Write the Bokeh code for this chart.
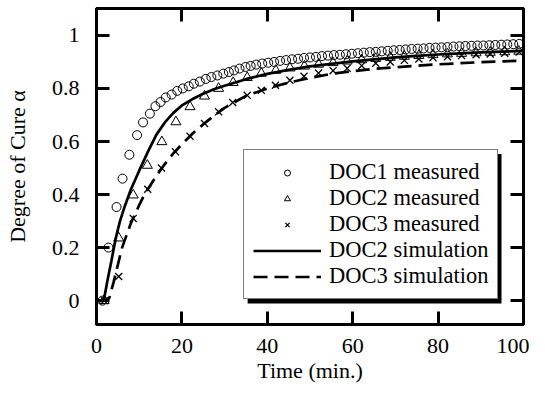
from bokeh.plotting import figure
from bokeh.models import (Range1d, LinearAxis, FixedTicker, Legend, LegendItem,
                          BoxAnnotation)
from bokeh.embed import file_html
from bokeh.resources import INLINE

# ---------------- data ----------------
doc1_t = [1.4, 2.8, 4.7, 6.1, 7.7, 9.5, 10.9, 12.5, 13.8, 15.0, 16.2, 17.6, 18.9, 20.2,
          21.6, 22.8, 24.2, 25.6, 26.9, 28.3, 29.7, 31.0, 32.2, 33.5, 34.9, 36.1, 37.4,
          38.8, 40.2, 41.6, 43.0, 44.4, 45.8, 47.2, 48.6, 50.0, 51.4, 52.8, 54.2, 55.6,
          57.0, 58.4, 59.8, 61.2, 62.6, 64.0, 65.4, 66.8, 68.2, 69.6, 71.0, 72.4, 73.8,
          75.2, 76.6, 78.0, 79.4, 80.8, 82.2, 83.6, 85.0, 86.4, 87.8, 89.2, 90.6, 92.0,
          93.4, 94.8, 96.2, 97.6, 99.0]
doc1_a = [0.0, 0.200, 0.353, 0.460, 0.550, 0.624, 0.672, 0.705, 0.733, 0.749, 0.766, 0.777,
          0.791, 0.800, 0.808, 0.818, 0.826, 0.836, 0.843, 0.849, 0.856, 0.862, 0.868, 0.875,
          0.881, 0.885, 0.890, 0.894, 0.897, 0.900, 0.904, 0.907, 0.910, 0.912, 0.915, 0.917,
          0.919, 0.922, 0.924, 0.926, 0.927, 0.929, 0.931, 0.933, 0.935, 0.937, 0.938, 0.940,
          0.942, 0.944, 0.945, 0.947, 0.949, 0.950, 0.951, 0.953, 0.954, 0.955, 0.956, 0.958,
          0.959, 0.960, 0.961, 0.962, 0.962, 0.963, 0.964, 0.965, 0.966, 0.967, 0.968]

doc2_t = [1.8, 5.2, 8.6, 11.9, 15.3, 18.6, 21.9, 25.3, 28.6, 32.0, 35.3, 38.6, 42.0, 45.3,
          48.7, 52.0, 55.4, 58.7, 62.1, 65.4, 68.8, 72.1, 75.5, 78.8, 82.2, 85.5, 88.9,
          92.2, 95.6, 98.9]
doc2_a = [0.0, 0.236, 0.398, 0.510, 0.599, 0.674, 0.731, 0.771, 0.800, 0.822, 0.841, 0.857,
          0.868, 0.877, 0.884, 0.891, 0.897, 0.903, 0.908, 0.913, 0.917, 0.921, 0.924, 0.927,
          0.930, 0.932, 0.934, 0.936, 0.938, 0.940]

doc3_t = [1.8, 5.2, 8.6, 12.0, 15.2, 18.5, 21.9, 25.3, 28.6, 31.9, 35.3, 38.6, 41.9, 45.3,
          48.6, 52.0, 55.4, 58.7, 62.1, 65.4, 68.8, 72.1, 75.5, 78.8, 82.2, 85.5, 88.9,
          92.2, 95.6, 99.0]
doc3_a = [0.0, 0.091, 0.310, 0.420, 0.500, 0.561, 0.620, 0.668, 0.712, 0.747, 0.774, 0.793,
          0.812, 0.831, 0.846, 0.858, 0.867, 0.876, 0.886, 0.895, 0.900, 0.906, 0.911, 0.916,
          0.920, 0.924, 0.927, 0.930, 0.933, 0.937]

sim2_t = [0.5, 1.7, 2.5, 3.5, 4.5, 5.5, 6.5, 8, 10, 12, 14, 16, 18, 20, 22.5, 25, 27.5, 30,
          35, 40, 45, 50, 55, 60, 65, 70, 75, 80, 85, 90, 95, 100]
sim2_a = [0, 0, 0.07, 0.15, 0.235, 0.30, 0.35, 0.417, 0.49, 0.56, 0.625, 0.672, 0.708, 0.736,
          0.76, 0.78, 0.797, 0.81, 0.835, 0.855, 0.87, 0.883, 0.893, 0.902, 0.910, 0.917,
          0.923, 0.928, 0.932, 0.936, 0.939, 0.942]

sim3_t = [0.5, 2.5, 3, 4, 5, 6, 7, 8, 9, 10, 11, 12, 14, 16, 18, 20, 22.5, 25, 27.5, 30, 35,
          40, 45, 50, 55, 60, 65, 70, 75, 80, 85, 90, 95, 100]
sim3_a = [0, 0, 0.01, 0.07, 0.135, 0.2, 0.245, 0.29, 0.325, 0.36, 0.393, 0.42, 0.47, 0.515,
          0.555, 0.59, 0.63, 0.665, 0.697, 0.727, 0.772, 0.80, 0.822, 0.84, 0.855, 0.865,
          0.874, 0.88, 0.886, 0.891, 0.895, 0.899, 0.902, 0.905]

x_ticks = [0, 20, 40, 60, 80, 100]
x_tick_labels = ["0", "20", "40", "60", "80", "100"]
y_ticks = [0, 0.2, 0.4, 0.6, 0.8, 1]
y_tick_labels = ["0", "0.2", "0.4", "0.6", "0.8", "1"]

series_labels = ["DOC1 measured", "DOC2 measured", "DOC3 measured",
                 "DOC2 simulation", "DOC3 simulation"]

FONT = "Liberation Serif"
FS = "22px"

p = figure(width=529, height=385, output_backend="svg", toolbar_location=None,
           x_range=Range1d(0, 100), y_range=Range1d(-0.09, 1.1015),
           min_border_left=96, min_border_right=6, min_border_top=8,
           min_border_bottom=60)
p.grid.visible = False
p.outline_line_color = "black"
p.outline_line_width = 3
p.background_fill_color = "white"
p.border_fill_color = "white"


def style_axis(ax, ticks, labels, show_labels=True):
    ax.ticker = FixedTicker(ticks=ticks)
    ax.axis_line_width = 3
    ax.axis_line_color = "black"
    ax.major_tick_in = 13
    ax.major_tick_out = 0
    ax.major_tick_line_width = 3
    ax.minor_tick_line_color = None
    ax.major_label_text_font = FONT
    ax.major_label_text_color = "black"
    if show_labels:
        ax.major_label_overrides = {t: l for t, l in zip(ticks, labels)}
        ax.major_label_text_font_size = FS
    else:
        ax.major_label_overrides = {t: "" for t in ticks}
        ax.major_label_text_font_size = "0px"
        ax.major_label_standoff = 0
        ax.axis_label_standoff = 0


xa = p.xaxis[0]
ya = p.yaxis[0]
style_axis(xa, x_ticks, x_tick_labels)
style_axis(ya, y_ticks, y_tick_labels)
xa.major_label_standoff = 14
ya.major_label_standoff = 17
xa.axis_label = "Time (min.)"
ya.axis_label = "Degree of Cure α"
for ax in (xa, ya):
    ax.axis_label_text_font = FONT
    ax.axis_label_text_font_size = FS
    ax.axis_label_text_font_style = "normal"
    ax.axis_label_text_color = "black"
xa.axis_label_standoff = 2
ya.axis_label_standoff = 19

top = LinearAxis()
right = LinearAxis()
style_axis(top, x_ticks, x_tick_labels, show_labels=False)
style_axis(right, y_ticks, y_tick_labels, show_labels=False)
p.add_layout(top, "above")
p.add_layout(right, "right")

r_s2 = p.line(sim2_t, sim2_a, line_color="black", line_width=2.7)
r_s3 = p.line(sim3_t, sim3_a, line_color="black", line_width=2.7, line_dash="14 7")
r1 = p.scatter(doc1_t, doc1_a, marker="circle", size=9, fill_color=None,
               line_color="black", line_width=1)
r2 = p.scatter(doc2_t, doc2_a, marker="triangle", size=10, fill_color=None,
               line_color="black", line_width=1)
r3 = p.scatter(doc3_t, doc3_a, marker="x", size=10, line_color="black", line_width=1.3)

shadow = BoxAnnotation(left=35.4, right=94.85, bottom=-0.011, top=0.553,
                       fill_color="black", fill_alpha=1, line_color=None)
p.add_layout(shadow)

legend = Legend(items=[LegendItem(label=series_labels[0], renderers=[r1]),
                       LegendItem(label=series_labels[1], renderers=[r2]),
                       LegendItem(label=series_labels[2], renderers=[r3]),
                       LegendItem(label=series_labels[3], renderers=[r_s2]),
                       LegendItem(label=series_labels[4], renderers=[r_s3])],
                location=(147, 25))
legend.label_text_font = FONT
legend.label_text_font_size = "22.5px"
legend.label_text_color = "black"
legend.border_line_color = "black"
legend.border_line_width = 1.5
legend.background_fill_color = "white"
legend.background_fill_alpha = 1
legend.padding = 9
legend.spacing = 0
legend.margin = 0
legend.glyph_width = 68
legend.glyph_height = 15
legend.label_standoff = 8
legend.label_height = 20
p.add_layout(legend)

open("out.html", "w").write(file_html(p, INLINE))
